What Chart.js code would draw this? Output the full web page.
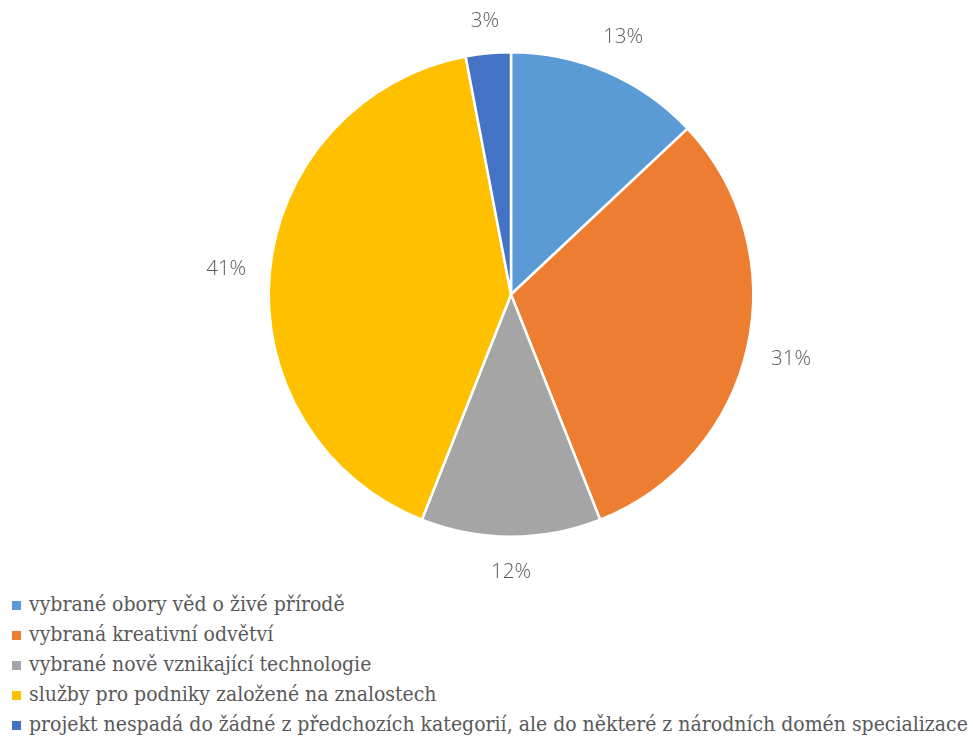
<!DOCTYPE html>
<html>
<head>
<meta charset="utf-8">
<script src="https://cdn.jsdelivr.net/npm/chart.js@4"></script>
<style>
  body { margin: 0; background: #fff; width: 973px; height: 740px; overflow: hidden; }
  #wrap { position: relative; width: 973px; height: 588px; }
  #legend { list-style: none; margin: 0; padding: 0; position: absolute; left: 12px; top: 589px; }
  #legend li { height: 30px; line-height: 30px; font-family: "DejaVu Serif Condensed", "DejaVu Serif", serif; font-size: 21px; color: #595959; white-space: nowrap; }
  #legend span.box { display: inline-block; width: 9px; height: 9px; margin-right: 8px; vertical-align: 1px; }
</style>
</head>
<body>
<div id="wrap"><canvas id="pieChart"></canvas></div>
<ul id="legend"></ul>
<script>
const categories = [
    'vybrané obory věd o živé přírodě',
    'vybraná kreativní odvětví',
    'vybrané nově vznikající technologie',
    'služby pro podniky založené na znalostech',
    'projekt nespadá do žádné z předchozích kategorií, ale do některé z národních domén specializace'
];
const shares = [13, 31, 12, 41, 3];
const colors = ['#5B9BD5', '#ED7D31', '#A5A5A5', '#FFC000', '#4472C4'];

// percent labels outside each slice, box kept a fixed gap from the edge
const outsideLabels = {
    id: 'outsideLabels',
    afterDatasetsDraw(chart) {
        const c = chart.ctx;
        const meta = chart.getDatasetMeta(0);
        c.save();
        c.font = '300 20.5px "Open Sans", sans-serif';
        c.fillStyle = '#595959';
        c.textAlign = 'center';
        c.textBaseline = 'middle';
        meta.data.forEach((arc, i) => {
            const p = arc.getProps(['x', 'y', 'startAngle', 'endAngle', 'outerRadius'], true);
            const mid = (p.startAngle + p.endAngle) / 2;
            const txt = shares[i] + '%';
            const w = c.measureText(txt).width;
            const cx = Math.cos(mid), cy = Math.sin(mid);
            const r = p.outerRadius + 23 + Math.abs(cx) * w / 2 + Math.abs(cy) * 10;
            c.fillText(txt, p.x + cx * r, p.y + cy * r + 2);
        });
        c.restore();
    }
};

const ctx = document.getElementById('pieChart').getContext('2d');
const pieChart = new Chart(ctx, {
    type: 'pie',
    data: {
        labels: categories,
        datasets: [{
            data: shares,
            backgroundColor: colors,
            borderColor: '#ffffff',
            borderWidth: 2.5
        }]
    },
    options: {
        responsive: true,
        maintainAspectRatio: false,
        animation: false,
        layout: { padding: { top: 51, bottom: 50, left: 267, right: 218 } },
        plugins: {
            legend: { display: false },
            tooltip: { enabled: false }
        }
    },
    plugins: [outsideLabels]
});

// legend list under the chart
const legendEl = document.getElementById('legend');
categories.forEach((name, i) => {
    const li = document.createElement('li');
    li.innerHTML = '<span class="box" style="background:' + colors[i] + '"></span>';
    li.appendChild(document.createTextNode(name));
    legendEl.appendChild(li);
});
</script>
</body>
</html>
